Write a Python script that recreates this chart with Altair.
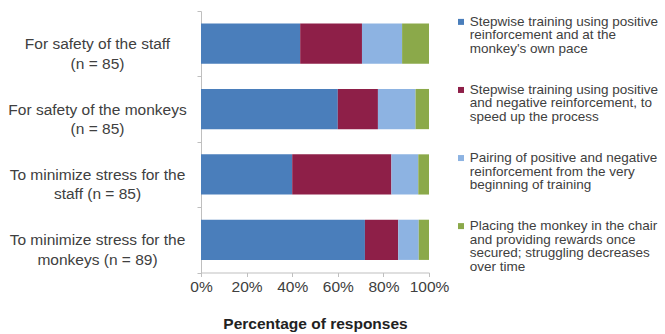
import altair as alt
import pandas as pd

categories = [
    "For safety of the staff|(n = 85)",
    "For safety of the monkeys|(n = 85)",
    "To minimize stress for the|staff (n = 85)",
    "To minimize stress for the|monkeys (n = 89)",
]
methods = [
    "Stepwise training using positive|reinforcement and at the|monkey's own pace",
    "Stepwise training using positive|and negative reinforcement, to|speed up the process",
    "Pairing of positive and negative|reinforcement from the very|beginning of training",
    "Placing the monkey in the chair|and providing rewards once|secured; struggling decreases|over time",
]
colors = ["#4A7EBB", "#8E1F48", "#8DB3E2", "#8BA94A"]

stepwise_positive = [43.5, 60.0, 40.0, 71.9]
stepwise_pos_neg = [27.1, 17.6, 43.5, 14.6]
pairing = [17.6, 16.5, 11.8, 9.0]
placing_chair = [11.8, 5.9, 4.7, 4.5]
x_ticks = [0, 20, 40, 60, 80, 100]

series = [stepwise_positive, stepwise_pos_neg, pairing, placing_chair]
rows = []
for mi, (m, vals) in enumerate(zip(methods, series)):
    for c, v in zip(categories, vals):
        rows.append({"cat": c, "method": m, "pct": v, "idx": mi})
df = pd.DataFrame(rows)
ldf = pd.DataFrame({"method": methods})

FONT = "Liberation Sans"
TXT = "#404040"
AX = "#BFBFBF"

color_scale = alt.Scale(domain=methods, range=colors)

bars = alt.Chart(df).mark_bar(height={"band": 0.615}).encode(
    x=alt.X(
        "pct:Q",
        stack="zero",
        scale=alt.Scale(domain=[0, 100], nice=False),
        axis=alt.Axis(
            values=x_ticks,
            labelExpr="datum.value + '%'",
            title="Percentage of responses",
            grid=False,
            domainColor=AX,
            tickColor=AX,
            tickSize=4,
            labelPadding=3,
            labelFontSize=15.5,
            labelColor=TXT,
            labelFont=FONT,
            titleFont=FONT,
            titleFontSize=15.5,
            titleFontWeight="bold",
            titleColor="#222222",
            titlePadding=21,
            labelFlush=False,
        ),
    ),
    y=alt.Y(
        "cat:N",
        sort=categories,
        scale=alt.Scale(paddingInner=0, paddingOuter=0),
        axis=alt.Axis(
            title=None,
            labelExpr="split(datum.label, '|')",
            labelAlign="center",
            labelBaseline="middle",
            labelPadding=100,
            tickSize=4,
            tickBand="extent",
            domainColor=AX,
            tickColor=AX,
            labelFontSize=15.5,
            labelLineHeight=19.5,
            labelColor=TXT,
            labelFont=FONT,
            labelLimit=400,
        ),
    ),
    color=alt.Color("method:N", scale=color_scale, legend=None),
    order=alt.Order("idx:Q"),
).properties(width=228, height=261.5)

leg_base = alt.Chart(ldf).encode(
    y=alt.Y("method:N", sort=methods, scale=alt.Scale(type="point", padding=0.16), axis=None)
)
squares = leg_base.mark_square(size=36, opacity=1).encode(
    x=alt.value(4),
    color=alt.Color("method:N", scale=color_scale, legend=None),
)
texts = leg_base.mark_text(
    align="left", baseline="top", dy=-7, lineBreak="|", fontSize=13.5,
    lineHeight=13.5, color=TXT, font=FONT,
).encode(x=alt.value(12.7), text="method:N")
legend_panel = (squares + texts).properties(width=190, height=226)

chart = alt.hconcat(bars, legend_panel, spacing=8).properties(
    padding={"left": 7, "top": 4, "right": 0, "bottom": 0}
).configure_view(stroke=None)

chart.save("out.html", embed_options={"renderer": "svg", "actions": False})
